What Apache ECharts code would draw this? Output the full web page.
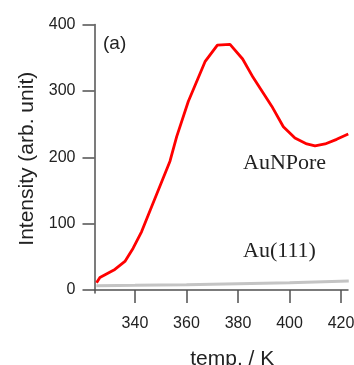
<!DOCTYPE html>
<html><head><meta charset="utf-8">
<script src="https://cdn.jsdelivr.net/npm/echarts@6/dist/echarts.min.js"></script>
<style>html,body{margin:0;padding:0;background:#fff}#c{width:354px;height:365px}</style>
</head><body><div id="c"></div>
<script>
const auNPoreT = [325.1,326.4,332.2,336.1,339.3,342.6,345.8,353.6,356.2,360.7,367.2,372.0,376.9,381.8,385.9,393.1,397.6,402.1,406.7,409.9,413.8,418.3,422.8];
const auNPoreI = [11,19,31,43,63,88,119,194,231,284,344,369,370,348,320,277,246,229,220,217,220,227,235];
const au111T = [325,340,360,380,400,423];
const au111I = [6.5,7,8,9.5,11,13.6];
const xTicks = [340,360,380,400,420];
const yTicks = [0,100,200,300,400];

const chart = echarts.init(document.getElementById('c'));
const axisColor = '#505050';
chart.setOption({
  animation:false,
  grid:{left:94.5,right:6,top:24.5,bottom:72,outerBoundsMode:'none',containLabel:false},
  xAxis:{type:'value',min:324.3,max:422.7,
    name:'temp. / K',nameLocation:'middle',nameGap:56,
    nameTextStyle:{fontFamily:'Liberation Sans',fontSize:21,color:'#222',padding:[0,0,0,22]},
    axisLine:{lineStyle:{color:axisColor,width:1.5}},
    axisTick:{length:13,lineStyle:{color:axisColor,width:1.5},customValues:xTicks},
    axisLabel:{margin:23,fontFamily:'Liberation Sans',fontSize:16,color:'#222',customValues:xTicks},
    splitLine:{show:false}},
  yAxis:{type:'value',min:-4.5,max:400,
    name:'Intensity (arb. unit)',nameLocation:'middle',nameGap:56,
    nameTextStyle:{fontFamily:'Liberation Sans',fontSize:21,color:'#222'},
    axisLine:{show:true,lineStyle:{color:axisColor,width:1.5}},
    axisTick:{show:true,length:12,lineStyle:{color:axisColor,width:1.5},customValues:yTicks},
    axisLabel:{margin:19,fontFamily:'Liberation Sans',fontSize:16,color:'#222',customValues:yTicks},
    splitLine:{show:false}},
  series:[
    {type:'line',data:au111T.map((t,i)=>[t,au111I[i]]),showSymbol:false,smooth:0.3,
      lineStyle:{color:'#c4c4c4',width:3}},
    {type:'line',data:auNPoreT.map((t,i)=>[t,auNPoreI[i]]),showSymbol:false,
      lineStyle:{color:'#ff0000',width:2.8}}
  ],
  graphic:[
    {type:'text',left:103,top:34,style:{text:'(a)',fontFamily:'Liberation Sans',fontSize:19,fill:'#222'}},
    {type:'text',left:243,top:152,style:{text:'AuNPore',fontFamily:'Liberation Serif',fontSize:22,fill:'#222'}},
    {type:'text',left:243,top:240,style:{text:'Au(111)',fontFamily:'Liberation Serif',fontSize:22,fill:'#222'}}
  ]
});
</script></body></html>
